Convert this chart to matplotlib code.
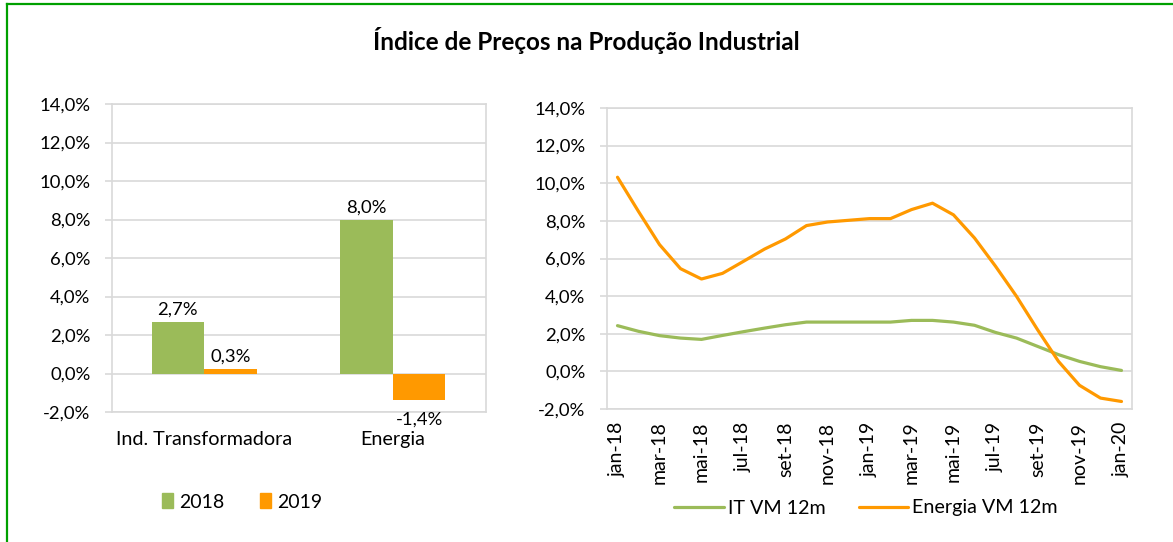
import numpy as np
import matplotlib.pyplot as plt
from matplotlib.lines import Line2D
from matplotlib.patches import Patch

# Data
categories = ['Ind. Transformadora', 'Energia']
years = ['2018', '2019']
vals_2018 = [2.7, 8.0]
vals_2019 = [0.25, -1.4]
bar_labels_2018 = ['2,7%', '8,0%']
bar_labels_2019 = ['0,3%', '-1,4%']

months = ['jan-18', 'fev-18', 'mar-18', 'abr-18', 'mai-18', 'jun-18', 'jul-18',
          'ago-18', 'set-18', 'out-18', 'nov-18', 'dez-18', 'jan-19', 'fev-19',
          'mar-19', 'abr-19', 'mai-19', 'jun-19', 'jul-19', 'ago-19', 'set-19',
          'out-19', 'nov-19', 'dez-19', 'jan-20']
it_vm12 = [2.43, 2.13, 1.90, 1.77, 1.70, 1.91, 2.11, 2.30, 2.48, 2.62, 2.62, 2.62,
           2.62, 2.62, 2.71, 2.71, 2.62, 2.45, 2.07, 1.77, 1.33, 0.89, 0.53, 0.25, 0.05]
energia_vm12 = [10.32, 8.50, 6.74, 5.46, 4.91, 5.21, 5.85, 6.50, 7.04, 7.75, 7.94, 8.03,
                8.12, 8.12, 8.60, 8.94, 8.32, 7.09, 5.59, 3.99, 2.22, 0.53, -0.74, -1.42, -1.60]

GREEN = '#9BBB59'
ORANGE = '#FF9900'
GRID = '#D9D9D9'

plt.rcParams['font.family'] = 'Lato'


def pct(v):
    return '{:.1f}%'.format(v).replace('.', ',')


def style_axes(ax):
    ax.set_ylim(-2, 14)
    ax.set_yticks(np.arange(-2, 15, 2))
    ax.set_yticklabels([pct(v) for v in np.arange(-2, 15, 2)], fontsize=13.3)
    ax.yaxis.grid(True, color=GRID, linewidth=1.2)
    ax.set_axisbelow(True)
    for s in ax.spines.values():
        s.set_color(GRID)
        s.set_linewidth(1.2)
    ax.tick_params(axis='y', length=5, color=GRID, width=1.2, pad=10.5)


W, H = 1173, 542
fig = plt.figure(figsize=(W / 100, H / 100), dpi=100)

# frame
fig.add_artist(Line2D([7 / W, 1.0], [1 - 4 / H, 1 - 4 / H], color='#00A000', linewidth=1.6))
fig.add_artist(Line2D([7 / W, 7 / W], [1 - 4 / H, 0.0], color='#00A000', linewidth=1.6))

fig.text(586 / W, 1 - 40 / H, 'Índice de Preços na Produção Industrial',
         fontsize=17.5, fontweight='bold', ha='center', va='center')

# bar chart
ax1 = fig.add_axes([112 / W, 1 - 412 / H, 374 / W, 308 / H])
x = np.arange(len(categories))
bw = 0.28
b1 = ax1.bar(x - bw / 2, vals_2018, bw, color=GREEN)
b2 = ax1.bar(x + bw / 2, vals_2019, bw, color=ORANGE)
ax1.set_xlim(-0.49, 1.495)
style_axes(ax1)
ax1.set_xticks(x)
ax1.set_xticklabels(categories, fontsize=14.2)
ax1.tick_params(axis='x', length=0, pad=14)
for rect, lab in zip(b1, bar_labels_2018):
    ax1.annotate(lab, (rect.get_x() + rect.get_width() / 2, rect.get_height()),
                 xytext=(0, 3), textcoords='offset points', ha='center', va='bottom', fontsize=13.3)
for rect, lab, v in zip(b2, bar_labels_2019, vals_2019):
    if v >= 0:
        ax1.annotate(lab, (rect.get_x() + rect.get_width() / 2, v),
                     xytext=(0, 3), textcoords='offset points', ha='center', va='bottom', fontsize=13.3)
    else:
        ax1.annotate(lab, (rect.get_x() + rect.get_width() / 2, v),
                     xytext=(0, -8), textcoords='offset points', ha='center', va='top', fontsize=13.3)

fig.legend(handles=[Patch(color=GREEN, label=years[0]), Patch(color=ORANGE, label=years[1])],
           loc='center', bbox_to_anchor=(242 / W, 1 - 502 / H), ncol=2, frameon=False,
           fontsize=14, handlelength=0.6, handleheight=0.8, handletextpad=0.3, columnspacing=1.8)

# line chart
ax2 = fig.add_axes([607 / W, 1 - 409 / H, 525 / W, 301 / H])
t = np.arange(len(months))
ax2.plot(t, it_vm12, color=GREEN, linewidth=2.3, label='IT VM 12m', solid_capstyle='round')
ax2.plot(t, energia_vm12, color=ORANGE, linewidth=2.3, label='Energia VM 12m', solid_capstyle='round')
ax2.set_xlim(-0.5, len(months) - 0.5)
style_axes(ax2)
ax2.set_xticks(t[::2])
ax2.set_xticklabels(months[::2], rotation=90, fontsize=14, ha='center', va='top')
ax2.tick_params(axis='x', length=0, pad=9)

fig.legend(handles=ax2.get_lines(), loc='center', bbox_to_anchor=(866 / W, 1 - 508 / H),
           ncol=2, frameon=False, fontsize=14.2, handlelength=2.5, handletextpad=0.2,
           columnspacing=1.7)

fig.savefig('out.png', dpi=100)
